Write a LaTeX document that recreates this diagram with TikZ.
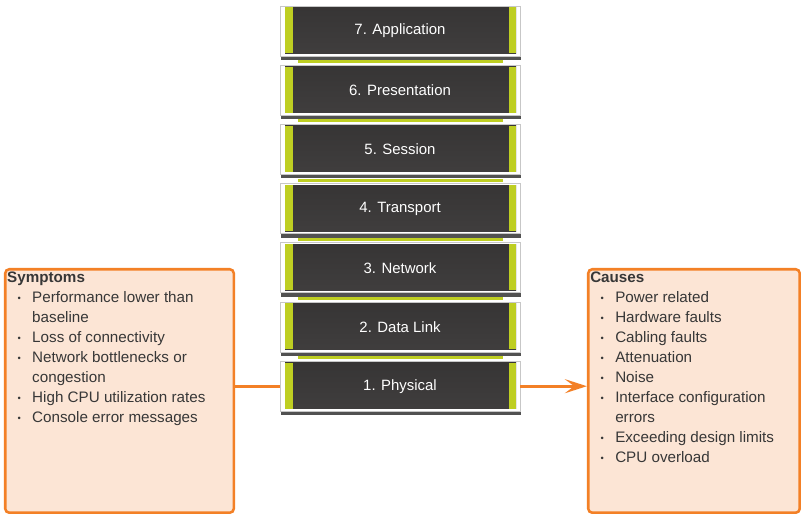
\documentclass[tikz,border=0pt]{standalone}
\usepackage{fontspec}
\setmainfont{Liberation Sans}
\usepackage{enumitem}
\usetikzlibrary{positioning,shadows,arrows.meta}

\definecolor{laydark}{RGB}{64,62,62}
\definecolor{laygreen}{RGB}{190,206,34}
\definecolor{boxorange}{RGB}{243,128,38}
\definecolor{boxfill}{RGB}{252,229,213}
\definecolor{boxtext}{RGB}{55,55,55}

\setlist[itemize]{nosep,leftmargin=18.75pt,labelsep=8.5pt,
    label={\raisebox{0.8pt}{\fontsize{7}{7}\selectfont\textbullet}}}

\tikzset{
    layer/.style={
        fill=white, draw=black!22, line width=0.5pt,
        minimum width=180pt, minimum height=37.5pt,
        inner sep=0pt, outer sep=0pt, text=white,
        font=\fontsize{11.2}{13}\selectfont,
        drop shadow={shadow xshift=0.75pt, shadow yshift=-3pt, fill=black!80, opacity=0.85},
        path picture={
            \shade[top color=laydark!85!black, bottom color=laydark]
                ([xshift=3.75pt,yshift=-1.1pt]path picture bounding box.north west)
                rectangle ([xshift=-3pt,yshift=1.9pt]path picture bounding box.south east);
            \fill[laygreen]
                ([xshift=3.75pt,yshift=-1.1pt]path picture bounding box.north west)
                rectangle ([xshift=9.75pt,yshift=1.9pt]path picture bounding box.south west);
            \fill[laygreen]
                ([xshift=-3pt,yshift=-1.1pt]path picture bounding box.north east)
                rectangle ([xshift=-8.5pt,yshift=1.9pt]path picture bounding box.south east);
        }
    },
    strip/.style={fill=laygreen},
    infobox/.style={
        draw=boxorange, line width=1.9pt, fill=boxfill, rounded corners=3pt,
        inner xsep=1.5pt, inner ysep=2pt, outer sep=0pt, anchor=north west,
        text=boxtext, font=\fontsize{11.4}{15}\selectfont
    },
    link/.style={draw=boxorange, line width=2.25pt}
}

\begin{document}
\begin{tikzpicture}[x=0.75pt, y=-0.75pt, node distance=6.9pt]
    \fill[white] (0,0) rectangle (809,520);
    \useasboundingbox (0,0) rectangle (809,520);

    \node[layer] (7) at (400,31) {7. Application};
    \node[layer, below=of 7] (6) {6. Presentation};
    \node[layer, below=of 6] (5) {5. Session};
    \node[layer, below=of 5] (4) {4. Transport};
    \node[layer, below=of 4] (3) {3. Network};
    \node[layer, below=of 3] (2) {2. Data Link};
    \node[layer, below=of 2] (1) {1. Physical};

    \fill[strip] ([xshift=13.5pt,yshift=-3.2pt]7.south west) rectangle ([xshift=-12.75pt,yshift=-5.4pt]7.south east);
    \fill[strip] ([xshift=13.5pt,yshift=-3.2pt]6.south west) rectangle ([xshift=-12.75pt,yshift=-5.4pt]6.south east);
    \fill[strip] ([xshift=13.5pt,yshift=-3.2pt]5.south west) rectangle ([xshift=-12.75pt,yshift=-5.4pt]5.south east);
    \fill[strip] ([xshift=13.5pt,yshift=-3.2pt]4.south west) rectangle ([xshift=-12.75pt,yshift=-5.4pt]4.south east);
    \fill[strip] ([xshift=13.5pt,yshift=-3.2pt]3.south west) rectangle ([xshift=-12.75pt,yshift=-5.4pt]3.south east);
    \fill[strip] ([xshift=13.5pt,yshift=-3.2pt]2.south west) rectangle ([xshift=-12.75pt,yshift=-5.4pt]2.south east);

    \node[infobox] (sym) at (5.25,269.25) {\parbox[t][178.6pt][t]{168.4pt}{%
        \raggedright\hyphenpenalty=10000
        \textbf{Symptoms}
        \begin{itemize}
            \item Performance lower than baseline
            \item Loss of connectivity
            \item Network bottlenecks or congestion
            \item High CPU utilization rates
            \item Console error messages
        \end{itemize}}};
    \node[infobox] (cau) at (588.25,269.25) {\parbox[t][178.6pt][t]{155.6pt}{%
        \raggedright\hyphenpenalty=10000
        \textbf{Causes}
        \begin{itemize}
            \item Power related
            \item Hardware faults
            \item Cabling faults
            \item Attenuation
            \item Noise
            \item Interface configuration errors
            \item Exceeding design limits
            \item CPU overload
        \end{itemize}}};

    \draw[link] (sym.east |- 1) -- (1);
    \draw[link, -{Stealth[length=16.5pt, width=10.5pt, inset=7pt]}, shorten >=1pt]
        (1) -- (1 -| cau.west);
\end{tikzpicture}
\end{document}
